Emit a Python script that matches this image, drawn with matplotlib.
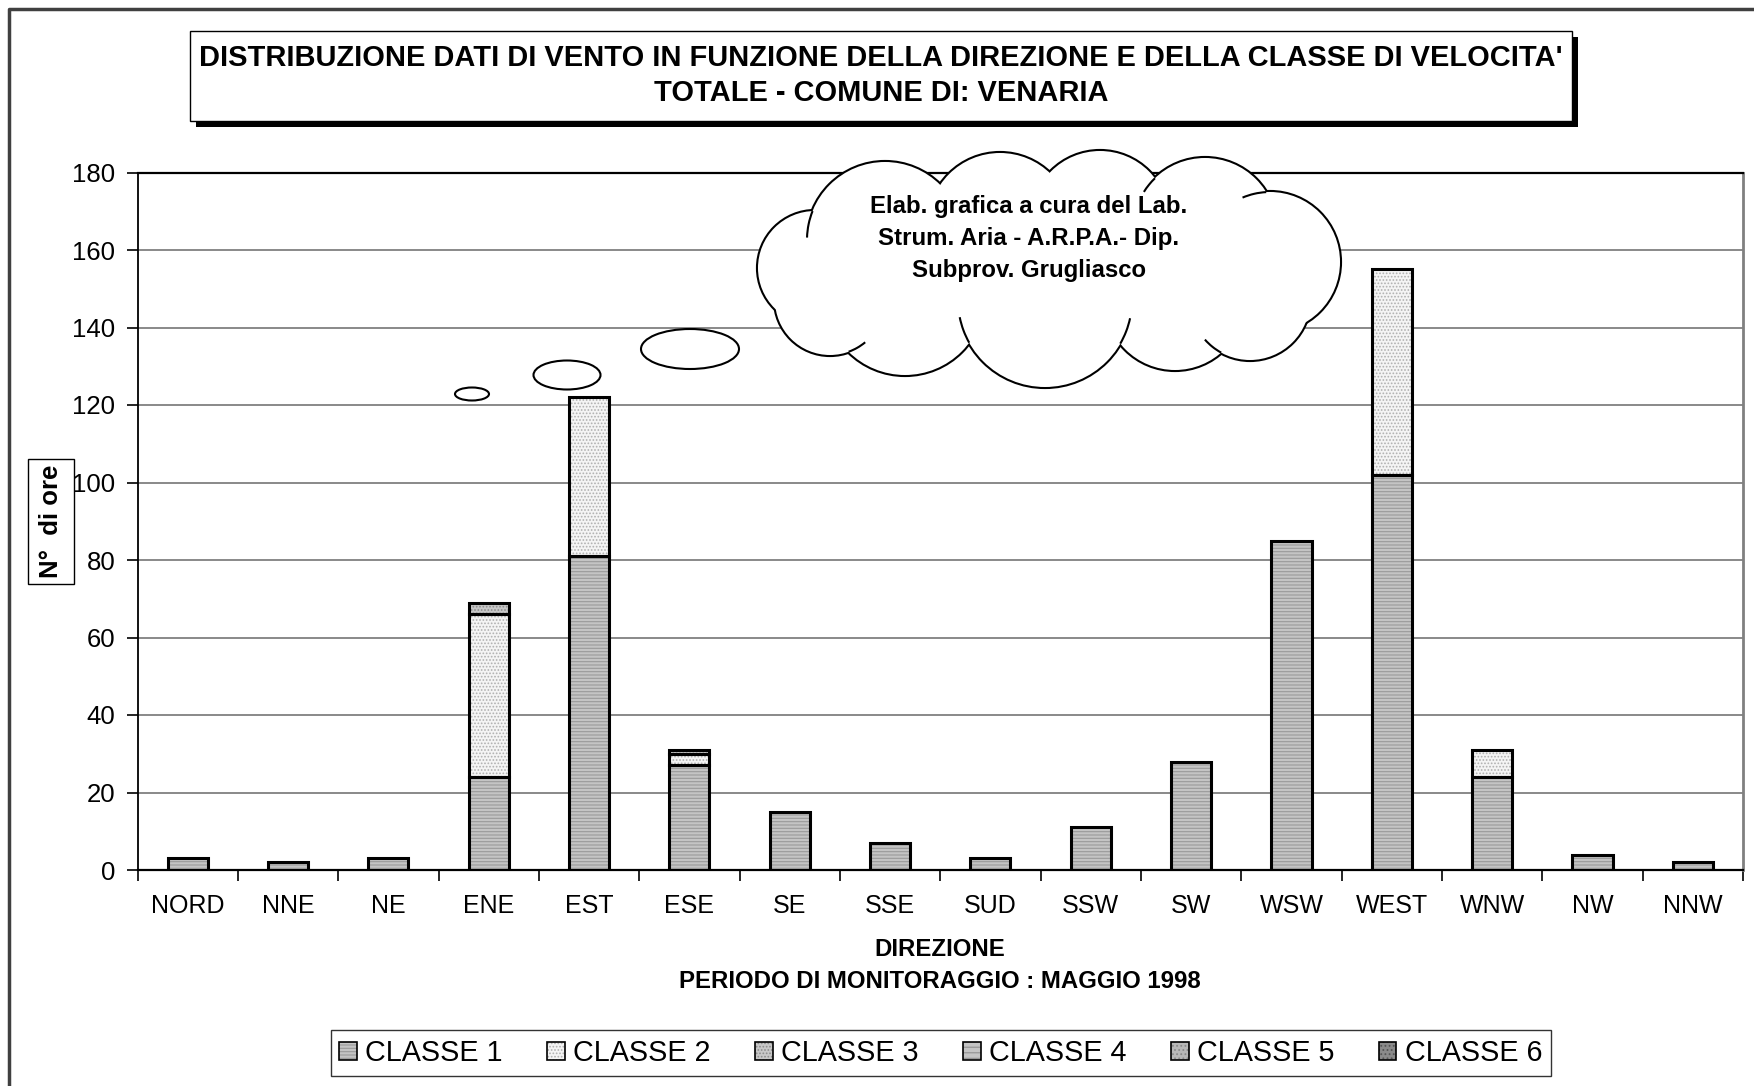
import matplotlib
matplotlib.use("Agg")
import matplotlib.pyplot as plt
import numpy as np
from matplotlib.patches import Rectangle, Circle, Ellipse, Patch, Polygon, Arc
from matplotlib.legend_handler import HandlerTuple

plt.rcParams['font.family'] = ['Liberation Sans', 'DejaVu Sans']
plt.rcParams['hatch.linewidth'] = 0.8

directions = ['NORD', 'NNE', 'NE', 'ENE', 'EST', 'ESE', 'SE', 'SSE', 'SUD',
              'SSW', 'SW', 'WSW', 'WEST', 'WNW', 'NW', 'NNW']
classe1 = [3, 2, 3, 24, 81, 27, 15, 7, 3, 11, 28, 85, 102, 24, 4, 2]
classe2 = [0, 0, 0, 42, 41, 3, 0, 0, 0, 0, 0, 0, 53, 7, 0, 0]
classe3 = [0, 0, 0, 3, 0, 1, 0, 0, 0, 0, 0, 0, 0, 0, 0, 0]
classe4 = [0] * 16
classe5 = [0] * 16
classe6 = [0] * 16
class_names = ['CLASSE 1', 'CLASSE 2', 'CLASSE 3', 'CLASSE 4', 'CLASSE 5', 'CLASSE 6']
yticks = [0, 20, 40, 60, 80, 100, 120, 140, 160, 180]

series = [classe1, classe2, classe3, classe4, classe5, classe6]
faces = ['#c4c4c4', '#f4f4f4', '#c8c8c8', '#c4c4c4', '#b8b8b8', '#8a8a8a']
hatches = ['-----', '.....', '.....', '---', '....', '....']
hcols = ['#9a9a9a', '#b0b0b0', '#8c8c8c', '#909090', '#8a8a8a', '#555555']

W, H = 1754, 1086
fig = plt.figure(figsize=(W / 100, H / 100), dpi=100)

def px_ax(l, t, r, b):
    return [l / W, 1 - b / H, (r - l) / W, (b - t) / H]

ax = fig.add_axes(px_ax(137.5, 172.5, 1743, 870))
x = np.arange(len(directions))
bottom = np.zeros(len(directions))
handles = []
for vals, fc, hc, hcol in zip(series, faces, hatches, hcols):
    v = np.array(vals, dtype=float)
    mask = v > 0
    if mask.any():
        ax.bar(x[mask], v[mask], 0.4, bottom=bottom[mask], color=fc, hatch=hc,
               edgecolor=hcol, linewidth=0, zorder=3)
        ax.bar(x[mask], v[mask], 0.4, bottom=bottom[mask], fill=False,
               edgecolor='black', linewidth=2.2, zorder=4)
    bottom += v
    handles.append((Patch(facecolor=fc, hatch=hc, edgecolor=hcol, linewidth=0),
                    Patch(fill=False, edgecolor='black', linewidth=1.2)))

ax.set_xlim(-0.5, len(directions) - 0.5)
ax.set_ylim(0, 180)
ax.set_yticks(yticks)
ax.set_yticklabels([str(t) for t in yticks], fontsize=18.5)
ax.set_xticks(x)
ax.set_xticklabels(directions, fontsize=18)
ax.set_xticks(np.arange(-0.5, len(directions)), minor=True)
ax.tick_params(axis='x', which='major', length=0, pad=17)
ax.tick_params(axis='x', which='minor', length=8, width=1.2, direction='out')
ax.tick_params(axis='y', length=8, width=1.2, pad=8)
ax.yaxis.grid(True, color='#808080', linewidth=1.3, zorder=0)
ax.set_axisbelow(True)
ax.spines['left'].set_linewidth(1.3)
ax.spines['bottom'].set_linewidth(1.6)
ax.spines['top'].set_linewidth(1.6)
ax.spines['right'].set_color('#808080')
ax.spines['right'].set_linewidth(2)

# overlay axes in pixel coordinates
ov = fig.add_axes([0, 0, 1, 1], zorder=10)
ov.set_xlim(0, W)
ov.set_ylim(H, 0)
ov.axis('off')
ov.patch.set_alpha(0)

# outer frame (left and top)
ov.plot([9, 9, W + 5], [H + 5, 9, 9], color='#404040', linewidth=2.5)

# title box with shadow
ov.add_patch(Rectangle((196, 37), 1382, 90, facecolor='black', edgecolor='none'))
ov.add_patch(Rectangle((190, 31), 1382, 90, facecolor='white', edgecolor='black', linewidth=1))
ov.text(881, 58, "DISTRIBUZIONE DATI DI VENTO IN FUNZIONE DELLA DIREZIONE E DELLA CLASSE DI VELOCITA'",
        ha='center', va='center', fontsize=20.9, fontweight='bold')
ov.text(881, 93, "TOTALE - COMUNE DI: VENARIA", ha='center', va='center',
        fontsize=20.9, fontweight='bold')

# y label box
ov.add_patch(Rectangle((28, 459), 46, 125, facecolor='white', edgecolor='black', linewidth=1))
ov.text(51, 521, "N°  di ore", rotation=90, ha='center', va='center',
        fontsize=18.5, fontweight='bold')

# x label lines
ov.text(940, 950, "DIREZIONE", ha='center', va='center', fontsize=17.3, fontweight='bold')
ov.text(940, 981, "PERIODO DI MONITORAGGIO : MAGGIO 1998", ha='center', va='center',
        fontsize=17.3, fontweight='bold')

# cloud callout (outline of overlapping circles, in pixel units)
circles = [(815, 268, 57), (885, 240, 78), (1000, 225, 72), (1100, 220, 69),
           (1205, 230, 72), (1270, 262, 70), (1250, 300, 60), (1175, 300, 70),
           (1045, 300, 87), (905, 295, 80), (830, 300, 55)]
for cx, cy, r in circles:
    ov.add_patch(Circle((cx, cy), r, facecolor='white', edgecolor='black', linewidth=3.0, zorder=2))
for cx, cy, r in circles:
    ov.add_patch(Circle((cx, cy), r, facecolor='white', edgecolor='none', zorder=3))
ov.add_patch(Polygon([(c[0], c[1]) for c in circles], closed=True, facecolor='white',
                     edgecolor='none', zorder=3))

# crease strokes: continue one bump's arc a little into the neighbouring bump
ccx = np.mean([c[0] for c in circles])
ccy = np.mean([c[1] for c in circles])
for i, j, span in [(1, 0, 20), (4, 3, 14), (5, 4, 20), (6, 7, 20), (8, 7, 18),
                   (8, 9, 18), (10, 9, 20)]:
    x1, y1, r1 = circles[i]
    x2, y2, r2 = circles[j]
    d = np.hypot(x2 - x1, y2 - y1)
    a = (r1 ** 2 - r2 ** 2 + d ** 2) / (2 * d)
    hh = np.sqrt(max(r1 ** 2 - a ** 2, 0))
    px, py = x1 + a * (x2 - x1) / d, y1 + a * (y2 - y1) / d
    pts = [(px + hh * (y2 - y1) / d, py - hh * (x2 - x1) / d),
           (px - hh * (y2 - y1) / d, py + hh * (x2 - x1) / d)]
    p = max(pts, key=lambda q: np.hypot(q[0] - ccx, q[1] - ccy))
    phi = np.degrees(np.arctan2(p[1] - y1, p[0] - x1))
    psi = np.degrees(np.arctan2(y2 - y1, x2 - x1))
    diff = (psi - phi + 180) % 360 - 180
    step = span if diff > 0 else -span
    t1, t2 = sorted([phi, phi + step])
    ov.add_patch(Arc((x1, y1), 2 * r1, 2 * r1, theta1=t1, theta2=t2, color='black',
                     linewidth=1.5, zorder=4))

for (ex, ey, ew, eh) in [(690, 349, 98, 40), (567, 375, 67, 29), (472, 394, 34, 13)]:
    ov.add_patch(Ellipse((ex, ey), ew, eh, facecolor='white', edgecolor='black',
                         linewidth=1.5, zorder=3))
ov.text(1029, 239, "Elab. grafica a cura del Lab.\nStrum. Aria - A.R.P.A.- Dip.\nSubprov. Grugliasco",
        ha='center', va='center', fontsize=17.3, fontweight='bold', linespacing=1.5, zorder=5)

# legend
leg = fig.legend(handles, class_names, loc='center', bbox_to_anchor=(941 / W, 1 - 1053 / H),
                 ncol=6, fontsize=20.7, frameon=True, fancybox=False, edgecolor='black',
                 handlelength=0.6, handleheight=0.6, handletextpad=0.3, columnspacing=1.55,
                 borderpad=0.3, handler_map={tuple: HandlerTuple(ndivide=1)})
leg.get_frame().set_linewidth(1.0)

fig.savefig('out.png', dpi=100)
